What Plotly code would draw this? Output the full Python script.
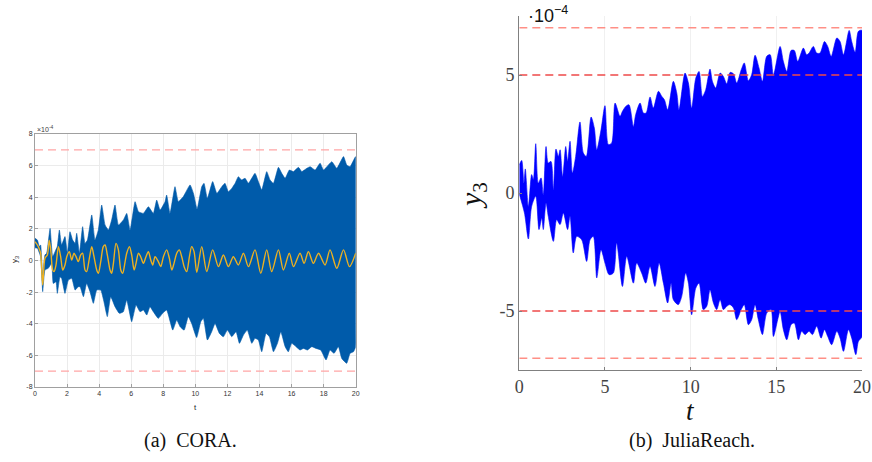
import plotly.graph_objects as go

# ---------------- data (values in units of 1e-4) ----------------
T_RANGE = [0, 20]

# CORA reachable-set envelope
cora_up_t = [0.0, 0.15, 0.27, 0.35, 0.48, 0.62, 0.73, 0.94, 1.10, 1.25, 1.39, 1.52, 1.66, 1.87, 2.02, 2.18, 2.35, 2.50, 2.60, 2.77, 2.97, 3.12, 3.27, 3.54, 3.74, 3.95, 4.16, 4.37, 4.58, 4.78, 4.99, 5.20, 5.51, 5.72, 5.93, 6.24, 6.45, 6.76, 7.07, 7.38, 7.59, 7.80, 8.11, 8.21, 8.42, 8.73, 8.94, 9.25, 9.67, 9.88, 10.11, 10.40, 10.54, 10.75, 11.08, 11.34, 11.65, 11.85, 12.06, 12.27, 12.48, 12.68, 12.89, 13.10, 13.31, 13.72, 13.93, 14.14, 14.45, 14.66, 14.87, 15.18, 15.39, 15.60, 15.86, 16.12, 16.43, 16.64, 16.95, 17.16, 17.47, 17.78, 17.99, 18.20, 18.51, 18.82, 19.24, 19.44, 19.65, 20.0]
cora_up_v = [1.40, 1.29, 0.88, 0.98, -1.03, 0.35, 0.46, 2.03, 0.24, 0.56, 0.88, 1.93, 0.98, 1.51, 0.46, 1.82, 1.29, 1.08, 1.72, 0.46, 2.14, 1.08, 1.29, 2.88, 1.29, 1.93, 3.51, 2.24, 1.93, 2.56, 3.51, 2.24, 2.56, 2.98, 1.93, 3.72, 3.09, 2.98, 3.40, 2.98, 3.82, 3.19, 3.72, 4.14, 2.98, 4.67, 3.72, 4.04, 4.78, 4.25, 3.25, 4.67, 4.88, 3.93, 4.99, 4.25, 4.67, 4.88, 4.35, 4.56, 4.88, 5.30, 5.09, 5.20, 4.88, 5.51, 4.99, 4.46, 5.62, 5.09, 4.88, 5.89, 5.51, 5.20, 5.72, 5.62, 5.89, 5.62, 5.83, 5.93, 5.72, 6.15, 5.72, 5.93, 6.25, 5.83, 6.57, 6.04, 5.93, 6.57]
cora_lo_t = [0.0, 0.15, 0.35, 0.48, 0.62, 0.83, 1.04, 1.14, 1.31, 1.39, 1.56, 1.66, 1.87, 2.08, 2.29, 2.50, 2.70, 2.81, 3.02, 3.22, 3.43, 3.64, 3.85, 4.10, 4.30, 4.51, 4.72, 4.99, 5.26, 5.51, 5.72, 6.03, 6.30, 6.55, 6.76, 6.97, 7.17, 7.38, 7.69, 7.96, 8.21, 8.59, 8.84, 9.05, 9.30, 9.56, 9.77, 10.08, 10.34, 10.50, 10.75, 11.02, 11.23, 11.50, 11.75, 12.00, 12.27, 12.54, 12.75, 13.00, 13.24, 13.52, 13.72, 13.93, 14.14, 14.41, 14.62, 14.87, 15.12, 15.33, 15.60, 15.80, 16.01, 16.28, 16.53, 16.74, 16.99, 17.26, 17.53, 17.82, 18.15, 18.40, 18.65, 18.92, 19.13, 19.44, 19.65, 19.86, 20.0]
cora_lo_v = [0.80, 0.77, 0.24, -1.97, -0.60, -0.49, -0.18, -1.45, -1.34, -2.08, -1.03, -1.13, -2.08, -1.24, -1.13, -1.87, -1.66, -1.66, -2.29, -1.45, -1.97, -2.71, -1.87, -1.87, -2.61, -3.55, -2.29, -2.92, -3.34, -3.24, -2.50, -3.87, -2.82, -3.24, -3.13, -3.45, -2.92, -3.24, -3.66, -3.34, -3.13, -4.40, -3.77, -4.19, -4.40, -3.55, -3.98, -4.87, -3.87, -3.66, -5.03, -4.50, -3.98, -4.61, -4.82, -4.40, -4.82, -4.50, -5.24, -4.71, -4.40, -5.24, -4.92, -5.03, -5.77, -4.61, -4.82, -5.77, -5.24, -4.50, -5.45, -5.77, -5.24, -5.45, -5.66, -5.56, -5.66, -5.45, -5.56, -5.66, -6.29, -5.66, -5.87, -5.45, -6.19, -6.50, -5.87, -5.77, -5.45]

# CORA simulation trace
sim_t = [0.0, 0.15, 0.25, 0.35, 0.48, 0.62, 0.77, 0.89, 1.00, 1.10, 1.19, 1.31, 1.46, 1.60, 1.73, 1.87, 1.98, 2.14, 2.29, 2.43, 2.56, 2.70, 2.85, 2.97, 3.12, 3.22, 3.39, 3.54, 3.68, 3.85, 3.95, 4.10, 4.26, 4.37, 4.51, 4.68, 4.78, 4.89, 5.05, 5.20, 5.35, 5.47, 5.62, 5.72, 5.89, 6.03, 6.18, 6.30, 6.45, 6.59, 6.76, 6.92, 7.07, 7.22, 7.34, 7.49, 7.69, 7.84, 8.01, 8.21, 8.38, 8.53, 8.67, 8.84, 9.00, 9.15, 9.30, 9.46, 9.63, 9.77, 9.92, 10.09, 10.40, 10.71, 11.08, 11.44, 11.75, 12.06, 12.37, 12.68, 13.00, 13.31, 13.72, 14.08, 14.45, 14.76, 15.18, 15.49, 15.86, 16.12, 16.53, 16.78, 17.05, 17.36, 17.68, 18.09, 18.40, 18.82, 19.24, 19.61, 20.0]
sim_v = [1.19, 0.98, 0.77, 0.46, -1.55, 0.14, 0.35, 1.29, 0.46, -0.60, -0.70, -0.28, 0.88, 0.24, -0.60, -0.28, 0.24, 0.56, 0.03, 0.46, 0.24, -0.07, 0.35, 0.46, -0.60, -0.70, 0.14, 0.88, 0.24, -0.60, -0.81, -0.07, 0.88, 0.98, 0.35, -0.60, -0.81, -0.18, 1.08, 0.67, -0.60, -0.81, -0.07, 0.46, 0.88, 0.35, -0.60, -0.18, 0.46, 0.24, -0.18, 0.24, 0.56, 0.03, -0.28, 0.24, -0.07, -0.39, 0.24, 0.67, 0.14, -0.60, -0.18, 0.46, 0.67, 0.24, -0.39, -0.70, 0.24, 0.88, 0.56, -0.75, 0.88, -0.70, 0.67, -0.39, 0.35, -0.39, 0.24, -0.28, 0.46, -0.39, 0.67, -0.81, 0.67, -0.70, 0.67, -0.60, 0.46, -0.39, 0.46, -0.18, 0.56, -0.18, 0.46, -0.28, 0.67, -0.49, 0.67, -0.39, 0.46]

# JuliaReach reachable-set envelope
jr_up_t = [0.0, 0.14, 0.27, 0.35, 0.53, 0.72, 0.82, 0.96, 1.11, 1.27, 1.40, 1.56, 1.69, 1.85, 1.99, 2.14, 2.28, 2.38, 2.53, 2.71, 2.82, 2.96, 3.10, 3.29, 3.54, 3.74, 3.91, 4.19, 4.38, 4.52, 4.77, 5.00, 5.20, 5.39, 5.59, 5.88, 6.02, 6.21, 6.40, 6.66, 6.79, 7.05, 7.24, 7.40, 7.63, 7.82, 8.12, 8.31, 8.47, 8.66, 8.99, 9.19, 9.32, 9.67, 9.87, 10.06, 10.30, 10.49, 10.69, 10.88, 11.13, 11.27, 11.46, 11.72, 11.91, 12.11, 12.30, 12.50, 12.69, 12.95, 13.13, 13.37, 13.56, 13.76, 13.99, 14.19, 14.44, 14.64, 14.83, 15.22, 15.41, 15.61, 15.86, 16.05, 16.25, 16.58, 16.77, 16.91, 17.16, 17.36, 17.55, 17.81, 18.00, 18.20, 18.53, 18.72, 18.92, 19.25, 19.40, 19.60, 19.79, 20.0]
jr_up_v = [1.20, 1.38, 0.42, 1.02, -0.57, 0.78, 0.57, 2.09, 0.42, 0.64, -0.07, 1.97, 1.27, 1.34, 0.14, 1.86, 1.55, 1.83, 0.70, 1.97, 1.34, 2.19, 0.85, 1.55, 3.01, 1.69, 1.55, 3.22, 2.75, 1.83, 2.68, 3.70, 2.05, 2.12, 3.81, 3.25, 3.46, 3.67, 3.74, 2.82, 3.32, 3.81, 3.39, 3.39, 4.07, 3.60, 4.31, 4.10, 3.95, 3.53, 4.73, 4.24, 3.53, 5.08, 4.66, 3.60, 4.87, 5.15, 4.09, 4.38, 5.25, 4.73, 4.45, 5.08, 4.94, 4.63, 5.11, 5.05, 4.66, 5.22, 5.51, 4.76, 5.01, 5.84, 5.30, 4.73, 5.79, 5.86, 5.01, 6.21, 5.58, 5.15, 6.04, 6.04, 5.58, 6.14, 5.86, 5.93, 6.21, 5.93, 5.93, 6.42, 6.21, 5.79, 6.57, 6.42, 5.86, 6.89, 6.42, 5.96, 6.85, 6.89]
jr_lo_t = [0.0, 0.30, 0.53, 0.72, 0.96, 1.15, 1.31, 1.40, 1.56, 1.69, 1.99, 2.18, 2.38, 2.57, 2.82, 2.96, 3.15, 3.35, 3.64, 3.93, 4.13, 4.32, 4.52, 4.77, 5.00, 5.24, 5.49, 5.68, 6.02, 6.27, 6.66, 6.85, 7.14, 7.38, 7.63, 7.92, 8.16, 8.41, 8.66, 8.86, 8.99, 9.28, 9.48, 9.71, 9.87, 10.06, 10.30, 10.49, 10.74, 10.94, 11.13, 11.33, 11.52, 11.72, 11.91, 12.11, 12.30, 12.50, 12.69, 12.95, 13.13, 13.37, 13.56, 13.76, 13.95, 14.19, 14.44, 14.69, 14.83, 15.08, 15.22, 15.41, 15.61, 15.86, 16.05, 16.29, 16.48, 16.68, 16.91, 17.11, 17.36, 17.61, 17.81, 18.00, 18.23, 18.53, 18.72, 18.92, 19.21, 19.40, 19.64, 19.79, 20.0]
jr_lo_v = [-0.05, -0.85, -1.95, -0.57, -0.14, -1.55, -1.06, -1.55, -0.42, -0.99, -2.05, -1.13, -1.34, -0.85, -1.55, -0.99, -2.54, -1.84, -1.98, -2.90, -1.98, -1.84, -3.60, -2.40, -2.97, -3.46, -3.39, -2.12, -3.96, -2.69, -3.82, -2.97, -3.39, -3.82, -3.11, -3.96, -2.97, -3.82, -4.66, -3.82, -4.52, -4.73, -4.38, -3.39, -3.82, -5.16, -4.03, -3.82, -4.94, -4.80, -4.10, -4.66, -4.94, -4.52, -4.94, -4.80, -4.73, -4.87, -5.37, -4.94, -4.73, -5.58, -5.37, -4.73, -5.37, -6.00, -5.09, -4.94, -6.08, -5.37, -5.02, -5.79, -6.22, -5.58, -5.51, -6.22, -5.86, -6.00, -5.86, -6.00, -5.65, -6.15, -5.79, -6.08, -6.43, -5.86, -6.15, -6.71, -5.79, -6.15, -6.85, -6.29, -6.08]

# specification bounds
cora_bounds = [7, -7]
jr_outer_bounds = [7, -7]
jr_inner_bounds = [5, -5]

# ticks
cora_xticks = list(range(0, 21, 2))
cora_yticks = list(range(-8, 9, 2))
jr_xticks = [0, 5, 10, 15, 20]
jr_yticks = [-5, 0, 5]

# ---------------- figure ----------------
W, H = 872, 462
CORA_BLUE = "#005BAA"
SIM_YELLOW = "#EDB120"

fig = go.Figure()

# CORA band
fig.add_trace(go.Scatter(
    x=cora_up_t + cora_lo_t[::-1], y=cora_up_v + cora_lo_v[::-1],
    fill="toself", fillcolor=CORA_BLUE, mode="lines",
    line=dict(color=CORA_BLUE, width=0.6, shape="spline", smoothing=0.4),
    xaxis="x", yaxis="y", hoverinfo="skip"))
# CORA simulation
fig.add_trace(go.Scatter(
    x=sim_t, y=sim_v, mode="lines",
    line=dict(color=SIM_YELLOW, width=1.4, shape="spline", smoothing=0.8),
    xaxis="x", yaxis="y"))
# CORA bounds
for b in cora_bounds:
    fig.add_trace(go.Scatter(x=T_RANGE, y=[b, b], mode="lines",
                             line=dict(color="#FFA5A5", width=1.3, dash="8px,5px"),
                             xaxis="x", yaxis="y"))

# JuliaReach band
fig.add_trace(go.Scatter(
    x=jr_up_t + jr_lo_t[::-1], y=jr_up_v + jr_lo_v[::-1],
    fill="toself", fillcolor="#0000FF", mode="lines",
    line=dict(color="#0000FF", width=0.6, shape="spline", smoothing=0.8),
    xaxis="x2", yaxis="y2", hoverinfo="skip"))
for b in jr_outer_bounds:
    fig.add_trace(go.Scatter(x=T_RANGE, y=[b, b], mode="lines",
                             line=dict(color="#FF8F86", width=1.4, dash="8px,5px"),
                             xaxis="x2", yaxis="y2"))
for b in jr_inner_bounds:
    fig.add_trace(go.Scatter(x=T_RANGE, y=[b, b], mode="lines",
                             line=dict(color="#EE4A4A", width=1.4, dash="8px,5px"),
                             xaxis="x2", yaxis="y2"))

sans = "Liberation Sans, Arial, sans-serif"
serif = "Liberation Serif, Times New Roman, serif"
small = dict(family=sans, size=7, color="#333333")

fig.update_layout(
    width=W, height=H, margin=dict(l=0, r=0, t=0, b=0, autoexpand=False),
    paper_bgcolor="white", plot_bgcolor="white", showlegend=False,
    xaxis=dict(domain=[35 / W, 355.7 / W], range=T_RANGE, tickvals=cora_xticks,
               ticktext=[str(v) for v in cora_xticks], tickfont=small, automargin=False,
               showgrid=True, gridcolor="#EBEBEB", gridwidth=1, zeroline=False,
               showline=True, mirror=True, linecolor="#A0A0A0", linewidth=1,
               ticks="inside", ticklen=3, tickcolor="#A0A0A0", anchor="y"),
    yaxis=dict(domain=[1 - 387 / H, 1 - 134 / H], range=[-8, 8], tickvals=cora_yticks,
               ticktext=[str(v) for v in cora_yticks], tickfont=small, automargin=False,
               showgrid=True, gridcolor="#EBEBEB", gridwidth=1, zeroline=False,
               showline=True, mirror=True, linecolor="#A0A0A0", linewidth=1,
               ticks="inside", ticklen=3, tickcolor="#A0A0A0", anchor="x"),
    xaxis2=dict(domain=[519.3 / W, 862 / W], range=T_RANGE, tickvals=jr_xticks,
                ticktext=[str(v) for v in jr_xticks], automargin=False,
                tickfont=dict(family=serif, size=18, color="#444444"),
                showgrid=True, gridcolor="#F0F0F0", gridwidth=1, zeroline=False,
                showline=True, linecolor="#808080", linewidth=1.3,
                ticks="inside", ticklen=3, tickcolor="#808080", anchor="y2"),
    yaxis2=dict(domain=[1 - 370 / H, 1 - 16 / H], range=[-7.5, 7.5], tickvals=jr_yticks,
                ticktext=[str(v) for v in jr_yticks], automargin=False,
                tickfont=dict(family=serif, size=18, color="#444444"),
                showgrid=False, zeroline=False,
                showline=True, linecolor="#808080", linewidth=1.3,
                ticks="inside", ticklen=3, tickcolor="#808080", anchor="x2"),
)

ann = [
    dict(text="×10<sup>-4</sup>", x=35 / W, y=1 - 129 / H, xanchor="left", yanchor="middle",
         font=dict(family=sans, size=7, color="#404040")),
    dict(text="y<sub>3</sub>", x=15 / W, y=1 - 260 / H, textangle=-90,
         font=dict(family=sans, size=8, color="#262626")),
    dict(text="t", x=195 / W, y=1 - 407 / H,
         font=dict(family=sans, size=8, color="#262626")),
    dict(text="·10<sup>−4</sup>", x=526 / W, y=1 - 15 / H, xanchor="left", yanchor="middle",
         font=dict(family=sans, size=18, color="#111111")),
    dict(text="<i>y</i><sub>3</sub>", x=473 / W, y=1 - 196 / H, textangle=-90,
         font=dict(family=serif, size=30, color="#111111")),
    dict(text="<i>t</i>", x=690 / W, y=1 - 411 / H,
         font=dict(family=serif, size=27, color="#111111")),
    dict(text="(a)  CORA.", x=190 / W, y=1 - 440 / H,
         font=dict(family=serif, size=20, color="#111111")),
    dict(text="(b)  JuliaReach.", x=692 / W, y=1 - 440 / H,
         font=dict(family=serif, size=20, color="#111111")),
]
for a in ann:
    a.setdefault("xanchor", "center")
    a.setdefault("yanchor", "middle")
    a.update(xref="paper", yref="paper", showarrow=False)
fig.update_layout(annotations=ann)

fig.write_html("out.html")
